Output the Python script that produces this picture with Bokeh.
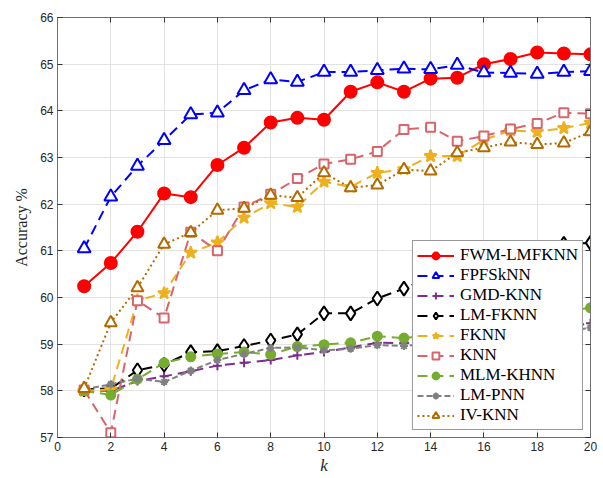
from bokeh.plotting import figure
from bokeh.models import LinearAxis, Legend, LegendItem, FixedTicker, Range1d
from bokeh.embed import file_html
from bokeh.resources import INLINE

k = list(range(1, 21))

fwm_lmfknn = [60.24, 60.74, 61.41, 62.23, 62.15, 62.84, 63.21, 63.75, 63.85, 63.81,
              64.41, 64.61, 64.41, 64.69, 64.71, 65.00, 65.11, 65.25, 65.23, 65.21]
fpfsknn = [61.05, 62.16, 62.82, 63.37, 63.92, 63.96, 64.44, 64.67, 64.62, 64.83,
           64.83, 64.87, 64.90, 64.89, 64.98, 64.82, 64.81, 64.79, 64.83, 64.85]
gmd_knn = [58.00, 58.00, 58.21, 58.31, 58.42, 58.54, 58.60, 58.66, 58.76, 58.83,
           58.93, 59.03, 59.02, 59.06, 59.10, 59.15, 59.20, 59.28, 59.36, 59.45]
lm_fknn = [58.03, 58.05, 58.44, 58.56, 58.83, 58.85, 58.96, 59.08, 59.21, 59.66,
           59.66, 59.98, 60.19, 60.45, 60.65, 60.80, 60.95, 61.05, 61.15, 61.17]
fknn = [58.00, 58.03, 59.94, 60.09, 60.96, 61.18, 61.71, 62.02, 61.94, 62.48,
        62.37, 62.67, 62.75, 63.03, 63.03, 63.38, 63.58, 63.55, 63.63, 63.74]
knn = [58.02, 57.10, 59.93, 59.56, 61.40, 61.00, 61.94, 62.21, 62.55, 62.86,
       62.96, 63.13, 63.60, 63.65, 63.35, 63.46, 63.61, 63.73, 63.96, 63.94]
mlm_khnn = [58.00, 57.91, 58.25, 58.60, 58.73, 58.79, 58.83, 58.78, 58.95, 58.99,
            59.03, 59.17, 59.13, 59.20, 59.30, 59.40, 59.50, 59.60, 59.70, 59.78]
lm_pnn = [58.03, 58.14, 58.26, 58.19, 58.43, 58.66, 58.79, 58.92, 58.93, 58.87,
          58.90, 58.98, 58.96, 59.02, 59.06, 59.10, 59.15, 59.20, 59.28, 59.35]
iv_knn = [58.05, 59.46, 60.21, 61.14, 61.39, 61.87, 61.91, 62.19, 62.14, 62.67,
          62.35, 62.41, 62.74, 62.71, 63.10, 63.21, 63.33, 63.28, 63.31, 63.55]

x_ticks = list(range(0, 21, 2))
y_ticks = list(range(57, 67))

p = figure(width=603, height=478, output_backend="svg", toolbar_location=None,
           x_range=Range1d(0, 20), y_range=Range1d(57, 66),
           min_border_left=57, min_border_right=13, min_border_top=17, min_border_bottom=41)
p.background_fill_color = "white"
p.border_fill_color = "white"
p.outline_line_color = "#707070"
p.outline_line_width = 1

axis_col = "#707070"
for ax in [p.xaxis[0], p.yaxis[0]]:
    ax.axis_line_color = axis_col
    ax.major_tick_line_color = "#333333"
    ax.major_tick_in = 5
    ax.major_tick_out = 0
    ax.minor_tick_line_color = None
    ax.major_label_text_font = "Liberation Sans"
    ax.major_label_text_font_size = "12px"
    ax.major_label_text_color = "#262626"
    ax.axis_label_text_font = "Liberation Serif"
    ax.axis_label_text_font_style = "normal"
    ax.axis_label_text_color = "#262626"

p.xaxis.ticker = FixedTicker(ticks=x_ticks)
p.yaxis.ticker = FixedTicker(ticks=y_ticks)
p.xaxis.major_label_standoff = 4
p.yaxis.major_label_standoff = 4
p.xaxis.axis_label = "k"
p.xaxis.axis_label_text_font_style = "italic"
p.xaxis.axis_label_text_font_size = "17px"
p.xaxis.axis_label_standoff = 2
p.yaxis.axis_label = "Accuracy %"
p.yaxis.axis_label_text_font_size = "16px"
p.yaxis.axis_label_standoff = 7

for loc, tk in [("above", x_ticks), ("right", y_ticks)]:
    ax = LinearAxis(ticker=FixedTicker(ticks=tk))
    ax.axis_line_color = axis_col
    ax.major_tick_line_color = "#333333"
    ax.major_tick_in = 5
    ax.major_tick_out = 0
    ax.minor_tick_line_color = None
    ax.major_label_text_font_size = "0px"
    ax.major_label_standoff = 0
    ax.major_label_text_alpha = 0
    p.add_layout(ax, loc)

p.xgrid.ticker = FixedTicker(ticks=x_ticks)
p.ygrid.ticker = FixedTicker(ticks=y_ticks)
p.grid.grid_line_color = "#e3e3e3"
p.grid.grid_line_width = 1

items = []

def add_series(name, ys, color, dash, marker, size, fill, lw=2):
    r_line = p.line(k, ys, line_color=color, line_width=lw, line_dash=dash)
    r_mark = p.scatter(k, ys, marker=marker, size=size, line_color=color,
                       fill_color=fill, line_width=2)
    items.append(LegendItem(label=name, renderers=[r_line, r_mark]))

add_series("FWM-LMFKNN", fwm_lmfknn, "#FF0000", "solid", "circle", 12, "#FF0000")
add_series("FPFSkNN", fpfsknn, "#0000FF", "10 6", "triangle", 13, "white")
add_series("GMD-KNN", gmd_knn, "#7E2F8E", "10 6", "cross", 9, None)
add_series("LM-FKNN", lm_fknn, "#000000", "10 6", "diamond", 14, "white")
add_series("FKNN", fknn, "#EDB120", "10 6", "star", 13, "#EDB120")
add_series("KNN", knn, "#D9646A", "10 6", "square", 9, "white")
add_series("MLM-KHNN", mlm_khnn, "#77AC30", "10 6", "circle", 9, "#77AC30")
add_series("LM-PNN", lm_pnn, "#808080", "6 3", "asterisk", 8, None)
add_series("IV-KNN", iv_knn, "#B26B00", "2 3", "triangle", 12, "white")

legend = Legend(items=items, location="bottom_right")
legend.label_text_font = "Liberation Serif"
legend.label_text_font_size = "17px"
legend.label_text_color = "black"
legend.glyph_width = 37
legend.glyph_height = 17
legend.label_height = 17
legend.spacing = 0
legend.padding = 4
legend.margin = 7
legend.label_standoff = 6
legend.border_line_color = "#333333"
legend.border_line_width = 1
legend.background_fill_alpha = 1
p.add_layout(legend)

open("out.html", "w").write(file_html(p, INLINE))
